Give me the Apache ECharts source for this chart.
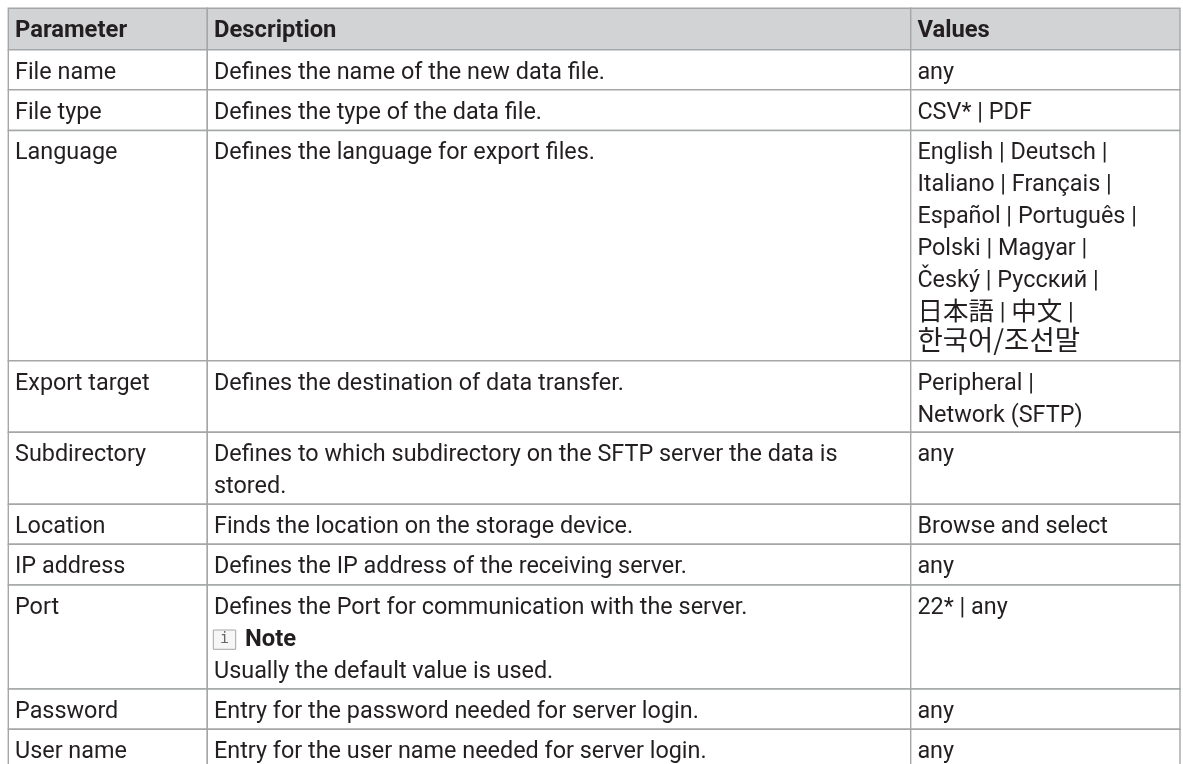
<!DOCTYPE html>
<html><head><meta charset="utf-8">
<style>html,body{margin:0;padding:0;background:#fff}#c{width:1183px;height:764px}</style>
<script src="https://cdn.jsdelivr.net/npm/echarts@6/dist/echarts.min.js"></script>
</head><body><div id="c"></div>
<script>
const headers = ['Parameter','Description','Values'];
const parameters = ['File name','File type','Language','Export target','Subdirectory','Location','IP address','Port','Password','User name'];
const descriptions = [
 'Defines the name of the new data file.',
 'Defines the type of the data file.',
 'Defines the language for export files.',
 'Defines the destination of data transfer.',
 'Defines to which subdirectory on the SFTP server the data is\nstored.',
 'Finds the location on the storage device.',
 'Defines the IP address of the receiving server.',
 'Defines the Port for communication with the server.\n{note|Note}\nUsually the default value is used.',
 'Entry for the password needed for server login.',
 'Entry for the user name needed for server login.'
];
const valuesText = [
 'any','CSV* | PDF',
 'English | Deutsch |\nItaliano | Français |\nEspañol | Português |\nPolski | Magyar |\nČeský | Русский |\n{cjk|日本語}{sep| | }{cjk|中文}{sep| |}\n{kr|한국어/조선말}',
 'Peripheral |\nNetwork (SFTP)',
 'any','Browse and select','any','22* | any','any','any'
];
const colEdges = [8.3,207.3,910.7,1180];
const rowEdges = [8.3,49.7,89.7,130.5,360.7,432.3,504.3,544.3,585,689,729.3,772];
const FONT = 'Roboto,"Noto Sans CJK JP",sans-serif';
const SIZE = 23.4;
const BOLD = 23.8;
const LH = 32;
const INK = '#231f20';
const cells = [];
headers.forEach((t,c)=>cells.push([c,0,t,1]));
parameters.forEach((t,r)=>{cells.push([0,r+1,t,0]);cells.push([1,r+1,descriptions[r],0]);cells.push([2,r+1,valuesText[r],0]);});
const chart = echarts.init(document.getElementById('c'),null,{renderer:'canvas'});
chart.setOption({
 animation:false,
 grid:{left:0,right:0,top:0,bottom:0},
 xAxis:{type:'value',min:0,max:1183,show:false},
 yAxis:{type:'value',min:0,max:764,inverse:true,show:false},
 series:[{type:'custom',coordinateSystem:'cartesian2d',clip:false,silent:true,
  data:cells,
  renderItem(p,api){
    const c=api.value(0),r=api.value(1),txt=cells[p.dataIndex][2],hd=cells[p.dataIndex][3];
    const a=api.coord([colEdges[c],rowEdges[r]]),b=api.coord([colEdges[c+1],rowEdges[r+1]]);
    const kids=[{type:'rect',shape:{x:a[0],y:a[1],width:b[0]-a[0],height:b[1]-a[1]},
      style:{fill:hd?'#d1d3d4':'#fff',stroke:'#a4a6a8',lineWidth:1.4}}];
    kids.push({type:'text',x:a[0]+6.7,y:a[1]+7,style:{text:txt,fill:INK,
      font:(hd?'bold '+BOLD:SIZE)+'px '+FONT,lineHeight:LH,
      rich:{
        note:{font:'bold '+BOLD+'px '+FONT,lineHeight:LH,fill:INK,padding:[0,0,0,31]},
        sep:{font:SIZE+'px '+FONT,lineHeight:LH,fill:INK},
        cjk:{font:'25.5px "Noto Sans CJK JP"',lineHeight:26,padding:[0,0,6,0],fill:INK},
        kr:{font:'27.5px "Noto Sans CJK KR"',lineHeight:26,padding:[0,0,6,0],fill:INK}
      }}});
    if(txt.indexOf('{note|')>=0){
      kids.push({type:'rect',shape:{x:a[0]+6,y:a[1]+45,width:22.4,height:19.3},style:{fill:'#f6f6f6',stroke:'#a4a6a8',lineWidth:1}});
      kids.push({type:'text',x:a[0]+17.2,y:a[1]+54.6,style:{text:'i',font:'15px "DejaVu Sans Mono"',fill:'#666',align:'center',verticalAlign:'middle'}});
    }
    return {type:'group',children:kids};
  }}]
});
</script></body></html>
